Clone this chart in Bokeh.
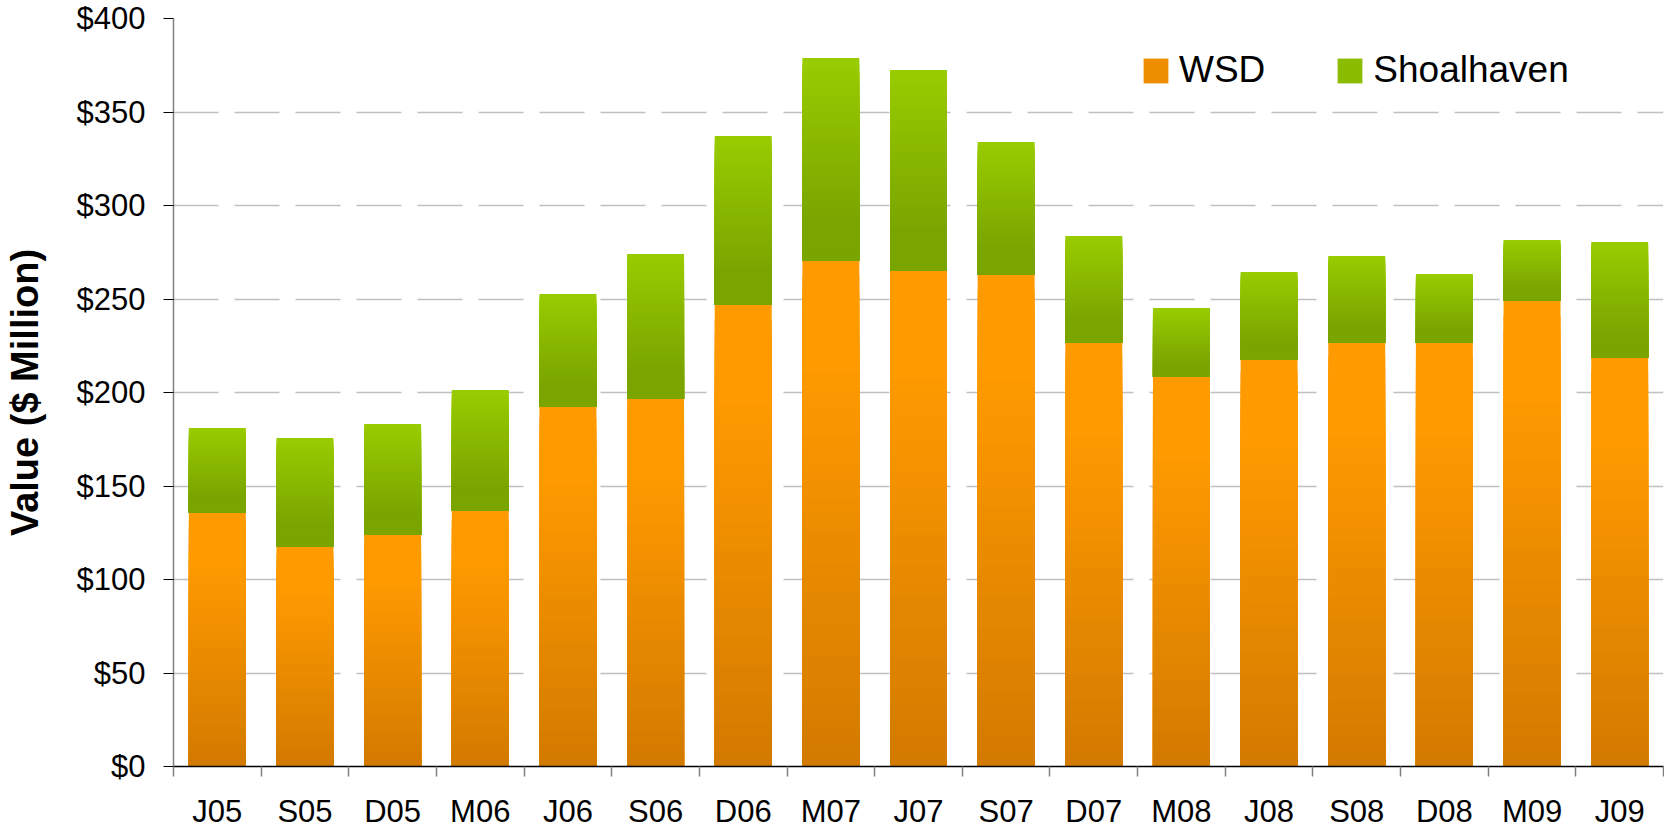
import numpy as np
from bokeh.plotting import figure
from bokeh.models import (Range1d, FixedTicker, Legend, LegendItem,
                          CustomJSTickFormatter)
from bokeh.embed import file_html
from bokeh.resources import INLINE

# ---------------- data ----------------
categories = ["J05", "S05", "D05", "M06", "J06", "S06", "D06", "M07", "J07",
              "S07", "D07", "M08", "J08", "S08", "D08", "M09", "J09"]
wsd = [135.7, 117.4, 123.8, 136.6, 192.2, 196.5, 246.8, 270.3, 265.0,
       262.8, 226.5, 208.3, 217.4, 226.5, 226.5, 248.9, 218.4]
shoalhaven = [45.3, 58.3, 59.4, 64.7, 60.5, 77.6, 90.4, 108.6, 107.5,
              71.2, 57.2, 36.9, 47.0, 46.5, 36.9, 32.7, 62.1]
y_ticks = [0, 50, 100, 150, 200, 250, 300, 350, 400]
y_tick_labels = ["$0", "$50", "$100", "$150", "$200", "$250", "$300", "$350", "$400"]
series_names = ["WSD", "Shoalhaven"]

# ---------------- styles ----------------
FONT = "Liberation Sans"
ORANGE_TOP, ORANGE_BOT = (255, 154, 0), (210, 122, 0)
GREEN_TOP, GREEN_BOT = (153, 204, 0), (122, 165, 0)
BAR_W = 0.65
NBANDS = 32

n = len(categories)
centers = [i + 0.5 for i in range(n)]
bounds = list(range(n + 1))

p = figure(width=1664, height=833, output_backend="svg", toolbar_location=None,
           x_range=Range1d(0, n), y_range=Range1d(0, 400),
           min_border_left=173, min_border_right=1,
           min_border_top=18, min_border_bottom=67)
p.outline_line_color = None
p.background_fill_color = "white"
p.border_fill_color = "white"


def hexcol(c1, c2, f):
    f = min(max(f, 0.0), 1.0)
    r, g, b = [int(round(a + (bb - a) * f)) for a, bb in zip(c1, c2)]
    return "#%02x%02x%02x" % (r, g, b)


def gradient_bars(bottom, height, ctop, cbot, start, end):
    bottom = np.asarray(bottom, dtype=float)
    height = np.asarray(height, dtype=float)
    rends = []
    for k in range(NBANDS):
        frac = (NBANDS - k) / NBANDS
        t = (k + 0.5) / NBANDS
        f = (t - start) / (end - start)
        col = hexcol(ctop, cbot, f)
        r = p.vbar(x=centers, width=BAR_W, bottom=bottom, top=bottom + height * frac,
                   fill_color=col, line_color=None)
        rends.append(r)
    return rends


wsd_arr = np.array(wsd)
shoal_arr = np.array(shoalhaven)
rw = gradient_bars(np.zeros(n), wsd_arr, ORANGE_TOP, ORANGE_BOT, 0.2, 1.0)
rs = gradient_bars(wsd_arr, shoal_arr, GREEN_TOP, GREEN_BOT, 0.0, 0.8)

# ---------------- axes ----------------
xa = p.xaxis[0]
xa.ticker = FixedTicker(ticks=centers, minor_ticks=bounds)
xa.formatter = CustomJSTickFormatter(args=dict(labels=categories),
                                     code="return labels[Math.floor(tick)] || ''")
xa.axis_line_color = "black"
xa.axis_line_width = 1.5
xa.major_tick_line_color = None
xa.major_tick_out = 10
xa.major_tick_in = 0
xa.minor_tick_line_color = "#808080"
xa.minor_tick_line_width = 1.5
xa.minor_tick_out = 10
xa.minor_tick_in = 0
xa.major_label_standoff = 17
xa.major_label_text_font = FONT
xa.major_label_text_font_size = "31px"
xa.major_label_text_color = "black"

ya = p.yaxis[0]
ya.ticker = FixedTicker(ticks=y_ticks)
ya.major_label_overrides = {t: lab for t, lab in zip(y_ticks, y_tick_labels)}
ya.axis_line_color = "#808080"
ya.axis_line_width = 1.5
ya.major_tick_line_color = "black"
ya.major_tick_line_width = 1.2
ya.major_tick_out = 10
ya.major_tick_in = 0
ya.minor_tick_line_color = None
ya.major_label_standoff = 18
ya.major_label_text_font = FONT
ya.major_label_text_font_size = "31px"
ya.major_label_text_color = "black"
ya.axis_label = "Value ($ Million)"
ya.axis_label_text_font = FONT
ya.axis_label_text_font_style = "bold"
ya.axis_label_text_font_size = "38px"
ya.axis_label_text_color = "black"
ya.axis_label_standoff = 28

p.xgrid.visible = False
p.ygrid.grid_line_color = "#C0C0C0"
p.ygrid.grid_line_width = 1.3
p.ygrid.grid_line_dash = "45 16"

# ---------------- legend ----------------
legend = Legend(items=[LegendItem(label=series_names[0], renderers=[rw[NBANDS // 2]]),
                       LegendItem(label=series_names[1], renderers=[rs[NBANDS // 3]])],
                orientation="horizontal", location=(967, 675),
                glyph_width=31, glyph_height=31, label_standoff=8, spacing=69,
                padding=0, margin=0, border_line_color=None,
                background_fill_alpha=0,
                label_text_font=FONT, label_text_font_size="37px",
                label_text_color="black")
p.add_layout(legend)

open("out.html", "w").write(file_html(p, INLINE))
